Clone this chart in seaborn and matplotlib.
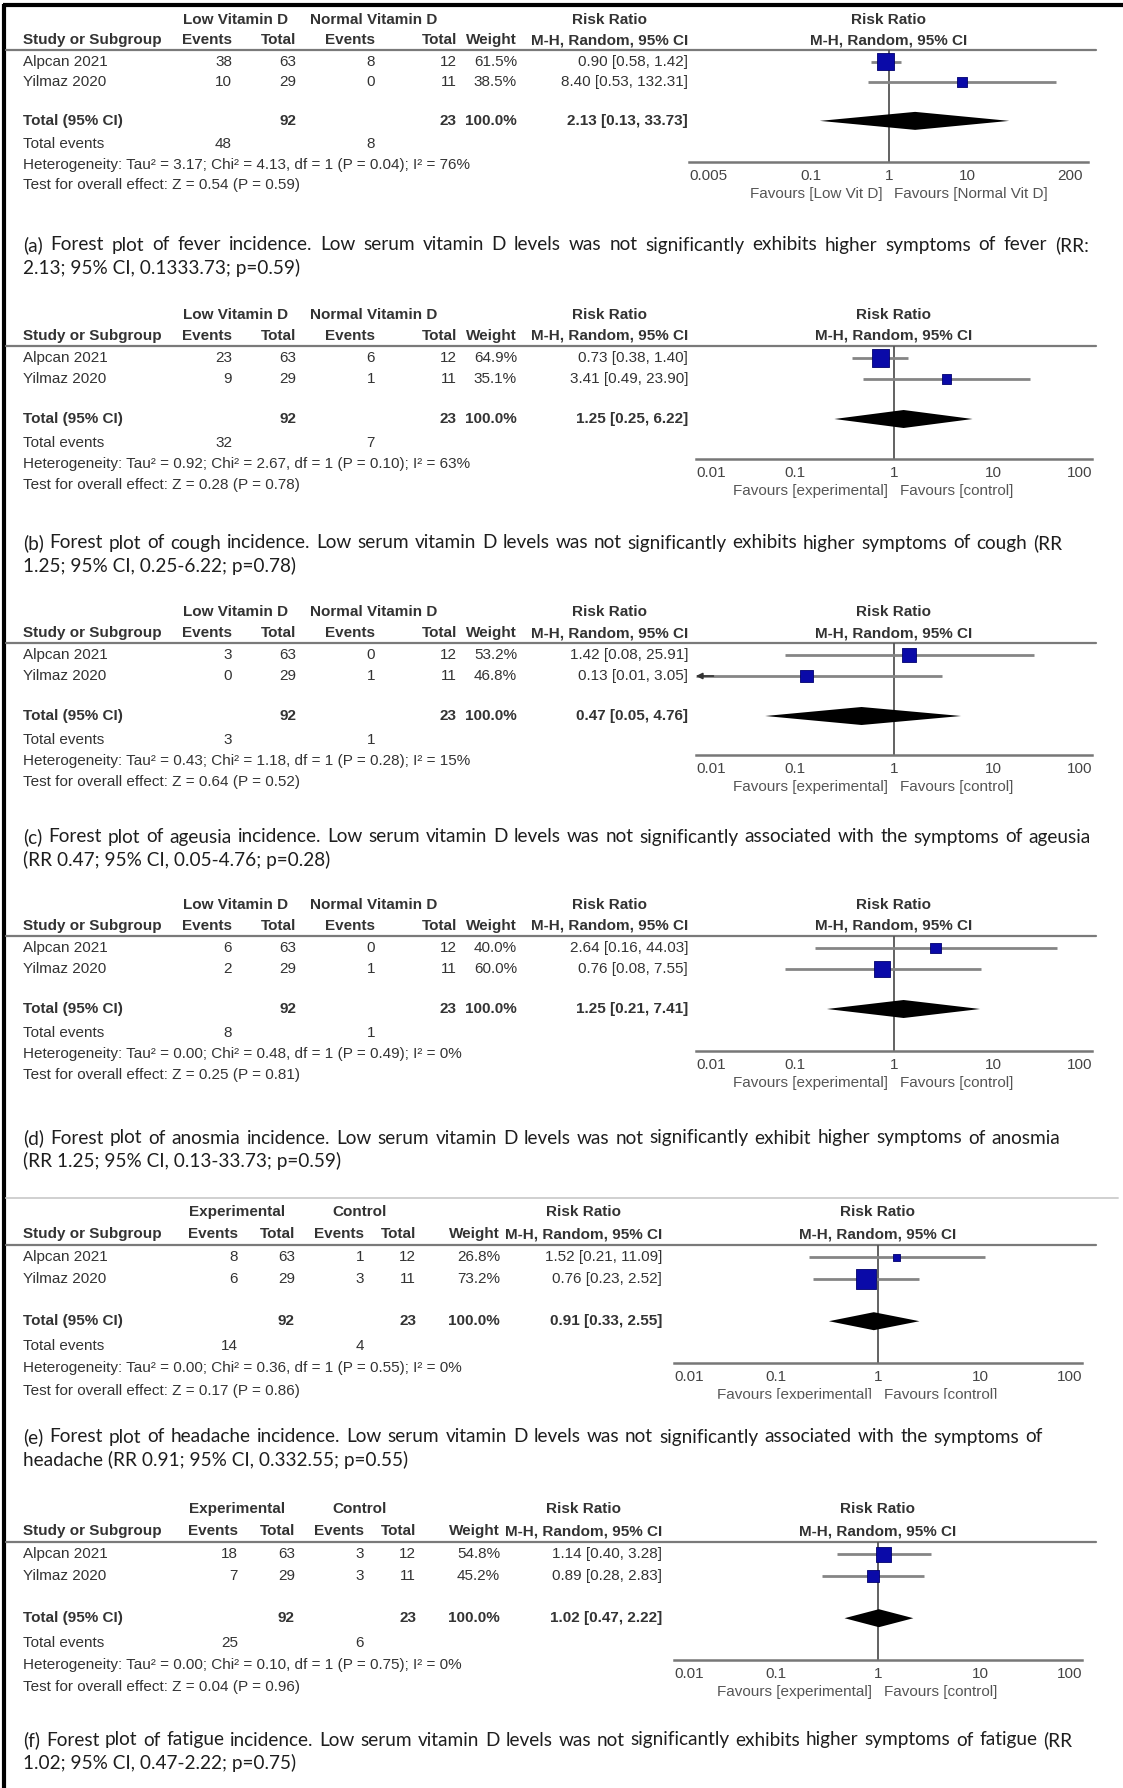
import numpy as np
import pandas as pd
import matplotlib
matplotlib.use('Agg')
import matplotlib.pyplot as plt
import matplotlib.ticker as mticker
import seaborn as sns

# ---------------- data ----------------
studies = ['Alpcan 2021', 'Yilmaz 2020']
group_labels = [('Low Vitamin D', 'Normal Vitamin D')] * 4 + [('Experimental', 'Control')] * 2
events_1 = [[38, 10], [23, 9], [3, 0], [6, 2], [8, 6], [18, 7]]
total_1 = [63, 29]
events_2 = [[8, 0], [6, 1], [0, 1], [0, 1], [1, 3], [3, 3]]
total_2 = [12, 11]
grand_total_1 = 92
grand_total_2 = 23
total_events_1 = [48, 32, 3, 8, 14, 25]
total_events_2 = [8, 7, 1, 1, 4, 6]
weights = [[61.5, 38.5], [64.9, 35.1], [53.2, 46.8], [40.0, 60.0], [26.8, 73.2], [54.8, 45.2]]
rr = [[0.90, 8.40], [0.73, 3.41], [1.42, 0.13], [2.64, 0.76], [1.52, 0.76], [1.14, 0.89]]
rr_lo = [[0.58, 0.53], [0.38, 0.49], [0.08, 0.01], [0.16, 0.08], [0.21, 0.23], [0.40, 0.28]]
rr_hi = [[1.42, 132.31], [1.40, 23.90], [25.91, 3.05], [44.03, 7.55], [11.09, 2.52], [3.28, 2.83]]
pooled = [2.13, 1.25, 0.47, 1.25, 0.91, 1.02]
pooled_lo = [0.13, 0.25, 0.05, 0.21, 0.33, 0.47]
pooled_hi = [33.73, 6.22, 4.76, 7.41, 2.55, 2.22]
tau2 = ['3.17', '0.92', '0.43', '0.00', '0.00', '0.00']
chi2 = ['4.13', '2.67', '1.18', '0.48', '0.36', '0.10']
p_het = ['0.04', '0.10', '0.28', '0.49', '0.55', '0.75']
i2 = ['76', '63', '15', '0', '0', '0']
z_val = ['0.54', '0.28', '0.64', '0.25', '0.17', '0.04']
p_z = ['0.59', '0.78', '0.52', '0.81', '0.86', '0.96']
favours = [('Favours [Low Vit D]', 'Favours [Normal Vit D]')] + \
          [('Favours [experimental]', 'Favours [control]')] * 5
tick_values = [[0.005, 0.1, 1, 10, 200]] + [[0.01, 0.1, 1, 10, 100]] * 5
tick_labels = [['0.005', '0.1', '1', '10', '200']] + [['0.01', '0.1', '1', '10', '100']] * 5
xlims = [(0.0028, 340)] + [(0.01, 100)] * 5

captions = [
    ('(a) Forest plot of fever incidence.  Low serum vitamin D levels was not significantly exhibits higher symptoms of fever (RR:',
     '2.13; 95% CI, 0.1333.73; p=0.59)'),
    ('(b) Forest plot of cough incidence.  Low serum vitamin D levels was not significantly  exhibits  higher symptoms of cough (RR',
     '1.25; 95% CI, 0.25-6.22; p=0.78)'),
    ('(c) Forest plot of ageusia incidence.  Low serum  vitamin D levels was not significantly  associated with the symptoms of ageusia',
     '(RR 0.47; 95% CI, 0.05-4.76; p=0.28)'),
    ('(d) Forest plot of anosmia incidence.  Low serum vitamin D levels was not significantly  exhibit higher symptoms of anosmia',
     '(RR 1.25; 95% CI, 0.13-33.73; p=0.59)'),
    ('(e) Forest plot of headache incidence.  Low serum vitamin D levels was not significantly  associated with the symptoms of',
     'headache (RR 0.91; 95% CI, 0.332.55; p=0.55)'),
    ('(f) Forest plot of fatigue incidence.  Low serum  vitamin D levels was not significantly  exhibits  higher symptoms  of fatigue (RR',
     '1.02; 95% CI, 0.47-2.22; p=0.75)'),
]

# ---------------- layout (pixels) ----------------
W, H = 1123, 1788
base_y = [20, 315, 612, 905, 1212, 1509]
row_scale = [0.97, 1.0, 1.0, 1.0, 1.05, 1.05]
row_names = ['group', 'cols', 'line', 'r1', 'r2', 'total', 'tevents', 'het', 'test']
row_offsets = [0, 21, 31, 43, 64, 104, 128, 149, 170]
axis_y = [162, 459, 755, 1051, 1363, 1660]
caption_y = [245, 543, 837, 1138, 1437, 1740]
caption_right = [1089, 1062, 1091, 1060, 1043, 1072]
plot_x = [(689, 1088), (696, 1092), (696, 1092), (696, 1092), (674, 1082), (674, 1082)]
cols_ad = dict(study=23, ev1=232, tot1=296, ev2=375, tot2=457, w=517, ci=688, g1=236, g2=374, rrh=610)
cols_ef = dict(study=23, ev1=238, tot1=295, ev2=364, tot2=416, w=500, ci=662, g1=237, g2=360, rrh=584)

TABLE_FS = 11.0
CAP_FS = 13.7
TXT = '#333333'
GRID = '#7a7a7a'
BLUE = '#0a0aa8'

sns.set_theme(style='white')
plt.rcParams['font.family'] = ['Liberation Sans', 'DejaVu Sans']

fig = plt.figure(figsize=(W / 100, H / 100), dpi=100)
bg = fig.add_axes([0, 0, 1, 1])
bg.set_xlim(0, W)
bg.set_ylim(H, 0)
bg.axis('off')
renderer = fig.canvas.get_renderer()


def put(x, y, s, ha='left', bold=False, size=TABLE_FS, color=TXT, **kw):
    return bg.text(x, y, s, ha=ha, va='center', fontsize=size,
                   fontweight='bold' if bold else 'normal', color=color, **kw)


def justify(x0, x1, y, line, **kw):
    # spread the words of a caption line between x0 and x1 like a justified paragraph
    words = line.split()
    texts = [bg.text(0, y, w, ha='left', va='center', **kw) for w in words]
    widths = [t.get_window_extent(renderer).width for t in texts]
    gap = (x1 - x0 - sum(widths)) / (len(words) - 1)
    gap = max(gap, 4)
    x = x0
    for t, wd in zip(texts, widths):
        t.set_x(x)
        x += wd + gap


# page border (left + top)
bg.plot([4, 4], [4, H], color='black', lw=3, solid_capstyle='butt')
bg.plot([3, W], [5, 5], color='black', lw=3, solid_capstyle='butt')
# faint top edge of the pasted image in panel (e)
bg.plot([6, 1118], [1198, 1198], color='#d0d0d0', lw=1.4)

cap_kw = dict(fontsize=CAP_FS, family=['Lato', 'DejaVu Sans'], color='#1e1e1e')

for i in range(6):
    c = cols_ad if i < 4 else cols_ef
    y = {n: base_y[i] + o * row_scale[i] for n, o in zip(row_names, row_offsets)}
    g1, g2 = group_labels[i]
    px0, px1 = plot_x[i]
    pc = (px0 + px1) / 2

    # header
    put(c['g1'], y['group'], g1, ha='center', bold=True)
    put(c['g2'], y['group'], g2, ha='center', bold=True)
    put(c['rrh'], y['group'], 'Risk Ratio', ha='center', bold=True)
    put(pc, y['group'], 'Risk Ratio', ha='center', bold=True)
    put(c['study'], y['cols'], 'Study or Subgroup', bold=True)
    put(c['ev1'], y['cols'], 'Events', ha='right', bold=True)
    put(c['tot1'], y['cols'], 'Total', ha='right', bold=True)
    put(c['ev2'], y['cols'], 'Events', ha='right', bold=True)
    put(c['tot2'], y['cols'], 'Total', ha='right', bold=True)
    put(c['w'], y['cols'], 'Weight', ha='right', bold=True)
    put(c['ci'], y['cols'], 'M-H, Random, 95% CI', ha='right', bold=True)
    put(pc, y['cols'], 'M-H, Random, 95% CI', ha='center', bold=True)
    bg.plot([6, 1096], [y['line'], y['line']], color=GRID, lw=1.6)

    # study rows
    for j, st in enumerate(studies):
        yy = y['r%d' % (j + 1)]
        put(c['study'], yy, st)
        put(c['ev1'], yy, str(events_1[i][j]), ha='right')
        put(c['tot1'], yy, str(total_1[j]), ha='right')
        put(c['ev2'], yy, str(events_2[i][j]), ha='right')
        put(c['tot2'], yy, str(total_2[j]), ha='right')
        put(c['w'], yy, f'{weights[i][j]:.1f}%', ha='right')
        put(c['ci'], yy, f'{rr[i][j]:.2f} [{rr_lo[i][j]:.2f}, {rr_hi[i][j]:.2f}]', ha='right')

    # total rows
    put(c['study'], y['total'], 'Total (95% CI)', bold=True)
    put(c['tot1'], y['total'], str(grand_total_1), ha='right', bold=True)
    put(c['tot2'], y['total'], str(grand_total_2), ha='right', bold=True)
    put(c['w'], y['total'], '100.0%', ha='right', bold=True)
    put(c['ci'], y['total'], f'{pooled[i]:.2f} [{pooled_lo[i]:.2f}, {pooled_hi[i]:.2f}]', ha='right', bold=True)
    put(c['study'], y['tevents'], 'Total events')
    put(c['ev1'], y['tevents'], str(total_events_1[i]), ha='right')
    put(c['ev2'], y['tevents'], str(total_events_2[i]), ha='right')
    put(c['study'], y['het'],
        f'Heterogeneity: Tau\u00b2 = {tau2[i]}; Chi\u00b2 = {chi2[i]}, df = 1 (P = {p_het[i]}); I\u00b2 = {i2[i]}%')
    put(c['study'], y['test'], f'Test for overall effect: Z = {z_val[i]} (P = {p_z[i]})')

    # forest plot axes, y in page pixels
    ay = axis_y[i]
    ax = fig.add_axes([px0 / W, 1 - ay / H, (px1 - px0) / W, (ay - y['line']) / H])
    ax.set_facecolor('none')
    ax.set_xscale('log')
    ax.set_xlim(*xlims[i])
    ax.set_ylim(ay, y['line'])
    ax.axvline(1, color='#555555', lw=1.3, zorder=1)

    xl = xlims[i]
    rows_y = [y['r1'], y['r2']]
    for j in range(2):
        lo = max(rr_lo[i][j], xl[0])
        ax.hlines(rows_y[j], lo, min(rr_hi[i][j], xl[1]), color='#858585', lw=2.0, zorder=2)
        if rr_lo[i][j] <= xl[0]:
            ax.annotate('', xy=(xl[0], rows_y[j]), xytext=(xl[0] * 1.5, rows_y[j]),
                        arrowprops=dict(arrowstyle='-|>', color='#333333', lw=1.2,
                                        mutation_scale=9, shrinkA=0, shrinkB=0),
                        annotation_clip=False)

    df = pd.DataFrame({'rr': rr[i], 'y': rows_y, 'w': weights[i]})
    side_pt = (df['w'] * 0.27) * 0.72
    sns.scatterplot(data=df, x='rr', y='y', s=(side_pt ** 2).to_numpy(), marker='s',
                    color=BLUE, edgecolor='#00006e', linewidth=0.6, ax=ax,
                    legend=False, zorder=4)

    dh = 9
    ax.fill([pooled_lo[i], pooled[i], pooled_hi[i], pooled[i]],
            [y['total'], y['total'] - dh, y['total'], y['total'] + dh],
            color='black', lw=0, zorder=3)

    sns.despine(ax=ax, left=True)
    ax.spines['bottom'].set_color('#777777')
    ax.spines['bottom'].set_linewidth(1.8)
    ax.set_yticks([])
    ax.set_xticks(tick_values[i])
    ax.set_xticklabels(tick_labels[i])
    ax.xaxis.set_minor_locator(mticker.NullLocator())
    ax.tick_params(axis='x', which='major', direction='inout', length=10, width=1.4,
                   color='#777777', labelcolor='#444444', labelsize=TABLE_FS, pad=0)
    ax.set_xlabel('')
    ax.set_ylabel('')
    if i > 0:
        labs = ax.get_xticklabels()
        labs[0].set_horizontalalignment('left')
        labs[-1].set_horizontalalignment('right')

    fy = ay + 32
    put(pc - 6, fy, favours[i][0], ha='right', color='#555555')
    put(pc + 6, fy, favours[i][1], ha='left', color='#555555')

    # captions: first line justified, second line left
    cy = caption_y[i]
    justify(23, caption_right[i], cy, captions[i][0], **cap_kw)
    bg.text(23, cy + 23, captions[i][1], ha='left', va='center', **cap_kw)

# the pasted image of panel (e) cuts the favours line in half
bg.add_patch(plt.Rectangle((640, 1399), 470, 10, color='white', zorder=10))

fig.savefig('out.png', dpi=100)
